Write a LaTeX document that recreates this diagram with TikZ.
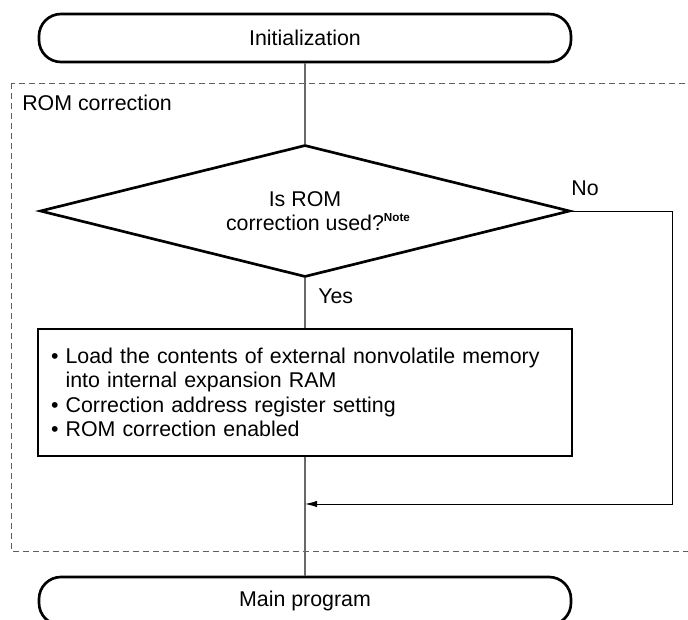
\documentclass[tikz,border=0pt]{standalone}
\usepackage{fontspec}
\setmainfont{Liberation Sans}
\usepackage{tikz}
\usetikzlibrary{arrows.meta,positioning,shapes.geometric}
\definecolor{flowgray}{RGB}{105,105,105}
\definecolor{groupgray}{RGB}{95,95,95}
\newcommand{\flowfont}{\fontsize{15.2}{17.2}\selectfont}
\tikzset{
  term/.style={rectangle, rounded corners=0.55cm, draw=black, line width=1.9pt, minimum width=13.3cm, minimum height=1.2cm, font=\flowfont},
  decision/.style={diamond, draw=black, line width=1.9pt, aspect=4.015, minimum width=13.25cm, minimum height=3.3cm, inner sep=0pt, align=center, font=\flowfont},
  procbox/.style={rectangle, draw=black, line width=1.9pt, minimum width=13.35cm, minimum height=3.175cm, inner xsep=0.325cm, text width=12.7cm, align=left, font=\flowfont},
  flowline/.style={draw=flowgray, line width=0.9pt},
  loopline/.style={draw=black, line width=0.7pt, -{Latex[length=3mm,width=1.6mm]}},
  groupbox/.style={draw=groupgray, line width=0.6pt, dash pattern=on 0.15cm off 0.1cm},
  lbl/.style={font=\flowfont, inner sep=0pt}
}

\begin{document}
\begin{tikzpicture}
  \useasboundingbox (0,0) rectangle (17.2,-15.5);

  % ROM correction group
  \draw[groupbox] (0.275,-2.075) rectangle (17.25,-13.775);
  \node[lbl, anchor=west] (grouplbl) at (0.55,-2.575) {ROM correction};

  % Flow
  \node[term] (init) at (7.625,-0.95) {Initialization};
  \node[decision] (used) at (7.625,-5.275) {Is ROM\\correction used?\rlap{\raisebox{0.75ex}{\fontsize{8.3}{9}\selectfont\bfseries Note}}};
  \node[procbox] (setup) at (7.625,-9.81) {%
    \textbullet\ Load the contents of external nonvolatile memory\\
    \hphantom{\textbullet\ }into internal expansion RAM\\
    \textbullet\ Correction address register setting\\
    \textbullet\ ROM correction enabled};
  \node[term] (main) at (7.625,-15.025) {Main program};

  \node[lbl] (nolbl) at (14.625,-4.7) {No};
  \node[lbl, anchor=west] (yeslbl) at (7.95,-7.4) {Yes};

  \coordinate (ne) at (16.8,-5.275);
  \coordinate (se) at (16.8,-12.6);
  \coordinate (join) at (7.625,-12.6);

  \draw[flowline] (init) -- (used);
  \draw[flowline] (used) -- (setup);
  \draw[flowline] (setup) -- (main);
  \draw[loopline] (used.east) -- (ne) -- (se) -- (join);
\end{tikzpicture}
\end{document}
